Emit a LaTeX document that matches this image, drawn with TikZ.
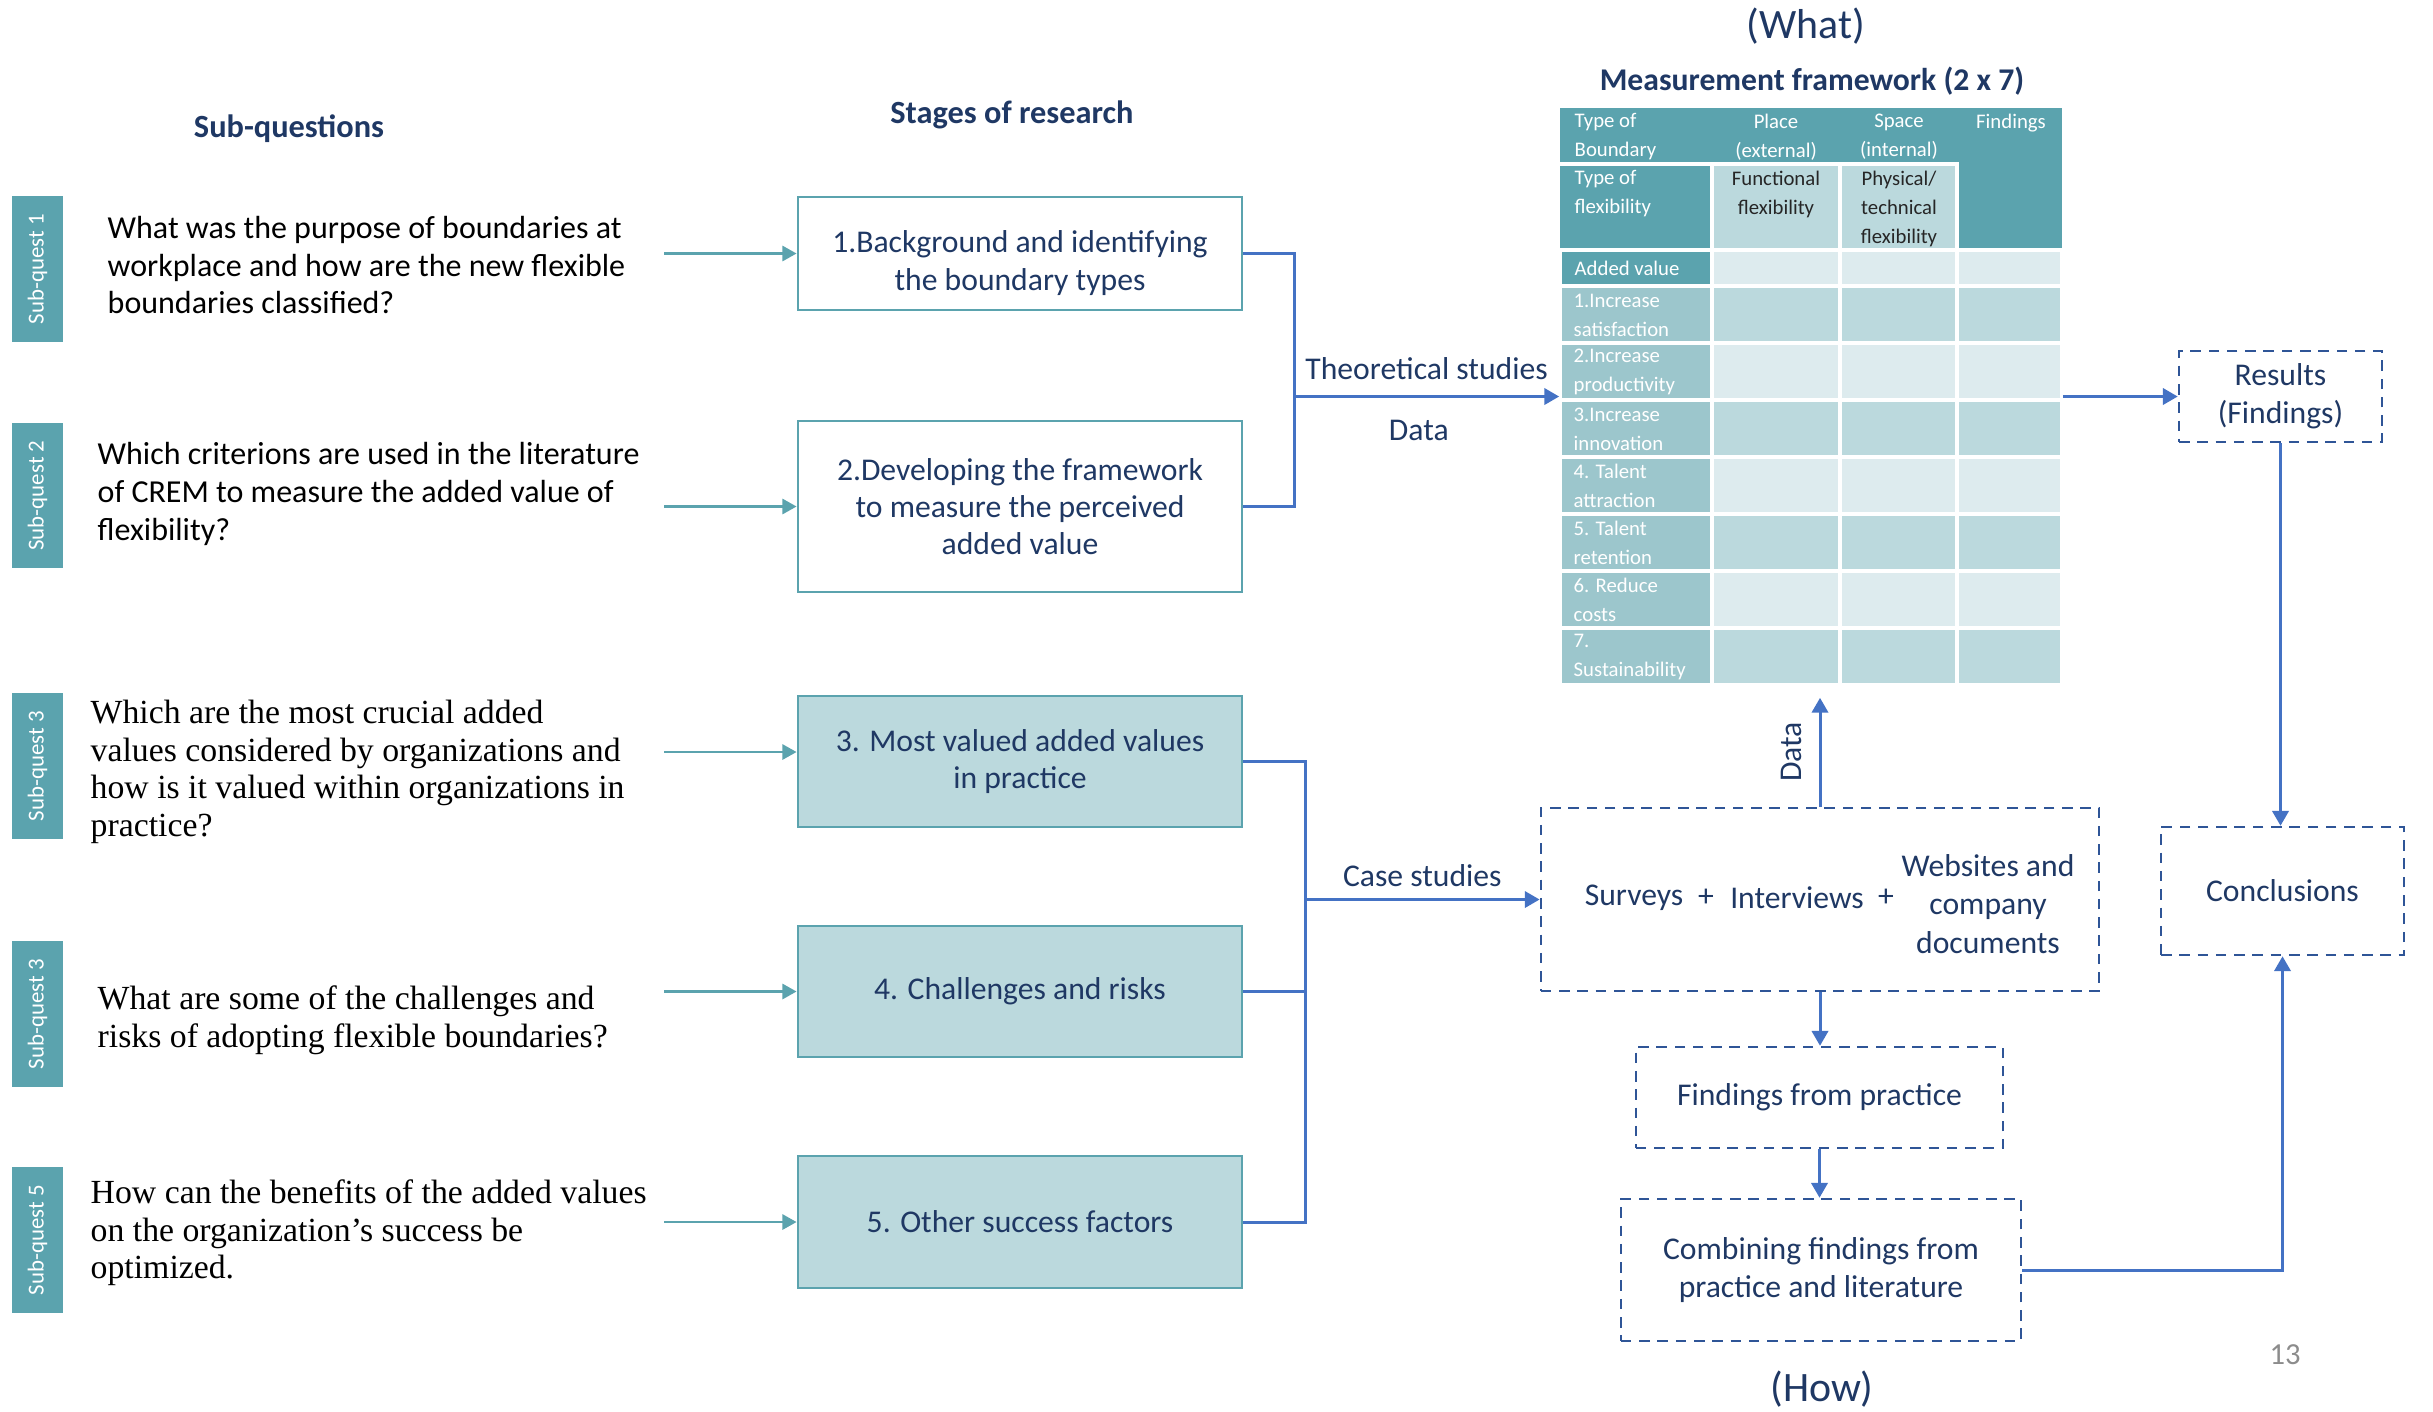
\documentclass[tikz,border=0pt]{standalone}
\usepackage{fontspec}
\setmainfont{Carlito}
\newfontfamily\cambfont{Liberation Serif}
\usetikzlibrary{arrows.meta,positioning}

\definecolor{navy}{RGB}{31,56,100}
\definecolor{tealA}{RGB}{91,163,174}
\definecolor{tealB}{RGB}{156,198,204}
\definecolor{tealC}{RGB}{187,217,221}
\definecolor{tealD}{RGB}{221,235,238}
\definecolor{lineblue}{RGB}{68,114,196}
\definecolor{dashblue}{RGB}{47,85,151}
\definecolor{pagegray}{RGB}{140,140,140}

\tikzset{
  subtab/.style={fill=tealA, text=white, rotate=90, minimum width=1.45cm, minimum height=0.51cm, inner sep=0pt, font=\fontsize{6.5}{7}\selectfont},
  qsans/.style={anchor=west, align=left, inner sep=0pt, font=\fontsize{9.1}{10.8}\selectfont},
  qserif/.style={anchor=west, align=left, inner sep=0pt, font=\cambfont\fontsize{9.6}{10.7}\selectfont},
  stagebox/.style={draw=tealA, line width=0.75pt, fill=#1, text=navy, align=center, minimum width=4.44cm, font=\fontsize{9}{10.6}\selectfont},
  stagebox/.default=white,
  head/.style={text=navy, font=\bfseries\fontsize{9.2}{11}\selectfont},
  lbl/.style={text=navy, font=\fontsize{9}{10.8}\selectfont},
  dashbox/.style={draw=dashblue, line width=0.7pt, dash pattern=on 3pt off 2.2pt, text=navy, align=center, font=\fontsize{9}{10.7}\selectfont},
  dtext/.style={text=navy, align=center, inner sep=0pt, font=\fontsize{9}{10.9}\selectfont},
  cell/.style={draw=white, line width=1pt},
  celltxt/.style={text=white, align=left, inner sep=0pt, font=\fontsize{5.9}{8.25}\selectfont},
  tealarrow/.style={draw=tealA, line width=0.65pt, -{Triangle[length=4pt,width=4.3pt]}},
  blueline/.style={draw=lineblue, line width=0.85pt},
  bluearrow/.style={blueline, -{Triangle[length=4.2pt,width=4.6pt]}},
}

\begin{document}
\begin{tikzpicture}[x=0.01cm, y=-0.01cm]
  \useasboundingbox (0,0) rectangle (2433,1411);

  % headings
  \node[head] (hsub) at (289,129) {Sub-questions};
  \node[head] (hstage) at (1012,115) {Stages of research};
  \node[text=navy, font=\fontsize{11.9}{13}\selectfont] (what) at (1806,26) {(What)};
  \node[text=navy, font=\bfseries\fontsize{9}{10.8}\selectfont] (mframe) at (1812,81) {Measurement framework (2 x 7)};
  \node[text=navy, font=\fontsize{11.9}{13}\selectfont] (how) at (1822,1389) {(How)};

  % sub-question tabs
  \foreach \n/\y/\t in {1/269/1, 2/495.5/2, 3/766/3, 4/1014/3, 5/1240/5}
    \node[subtab] (tab\n) at (37.5,\y) {Sub-quest \t};

  % questions
  \node[qsans] (q1) at (107,265) {What was the purpose of boundaries at\\workplace and how are the new flexible\\boundaries classified?};
  \node[qsans] (q2) at (97,494) {Which criterions are used in the literature\\of CREM to measure the added value of\\flexibility?};
  \node[qserif] (q3) at (90,772) {Which are the most crucial added\\values considered by organizations and\\how is it valued within organizations in\\practice?};
  \node[qserif] (q4) at (97,1020) {What are some of the challenges and\\risks of adopting flexible boundaries?};
  \node[qserif] (q5) at (90,1233) {How can the benefits of the added values\\on the organization’s success be\\optimized.};

  % stages of research
  \node[stagebox, minimum height=1.13cm] (s1) at (1020,253.5) {\raisebox{-5.25pt}[0pt][0pt]{\begin{tabular}{@{}c@{}}1.Background and identifying\\the boundary types\end{tabular}}};
  \node[stagebox, minimum height=1.71cm] (s2) at (1020,506.5) {2.Developing the framework\\to measure the perceived\\added value};
  \node[stagebox=tealC, minimum height=1.31cm] (s3) at (1020,761.5) {3. Most valued added values\\in practice};
  \node[stagebox=tealC, minimum height=1.31cm] (s4) at (1020,991.5) {4. Challenges and risks};
  \node[stagebox=tealC, minimum height=1.32cm] (s5) at (1020,1222) {5. Other success factors};

  % arrows into the stages
  \foreach \i/\y in {1/253.5, 2/506.5, 3/752, 4/991.5, 5/1222} {
    \coordinate (qa\i) at (664,\y);
    \draw[tealarrow] (qa\i) -- (qa\i -| s\i.west);
  }

  % measurement framework table
  \node[minimum width=5.02cm, minimum height=5.77cm, inner sep=0pt] (tbl) at (1811,396.5) {};
  \fill[tealA] (1560,108) rectangle (2062,250);
  \draw[white, line width=1pt] (1560,164) -- (1957,164);
  \filldraw[cell, fill=tealC] (1712,164) rectangle (1840,250);
  \filldraw[cell, fill=tealC] (1840,164) rectangle (1957,250);
  \filldraw[cell, fill=tealA] (1560,250) rectangle (1712,286);
  \foreach \xa/\xb in {1712/1840, 1840/1957, 1957/2062}
    \filldraw[cell, fill=tealD] (\xa,250) rectangle (\xb,286);
  \foreach \lab [count=\i] in {{1.Increase\\satisfaction}, {2.Increase\\productivity}, {3.Increase\\innovation}, {4. Talent\\attraction}, {5. Talent\\retention}, {6. Reduce\\costs}, {7.\\Sustainability}} {
    \pgfmathsetmacro\ytop{286+57*(\i-1)}
    \ifodd\i\def\rowcol{tealC}\else\def\rowcol{tealD}\fi
    \filldraw[cell, fill=tealB] (1560,\ytop) rectangle (1712,{\ytop+57});
    \foreach \xa/\xb in {1712/1840, 1840/1957, 1957/2062}
      \filldraw[cell, fill=\rowcol] (\xa,\ytop) rectangle (\xb,{\ytop+57});
    \node[celltxt, anchor=west] (rv\i) at (1573,{\ytop+29}) {\lab};
  }
  \node[celltxt, anchor=north west] (hbound) at (1574,113) {Type of\\Boundary};
  \node[celltxt, anchor=north, align=center] (hplace) at (1776,113) {Place\\(external)};
  \node[celltxt, anchor=north, align=center] (hspace) at (1899,113) {Space\\(internal)};
  \node[celltxt, anchor=north, align=center] (hfind) at (2011,113) {Findings};
  \node[celltxt, anchor=north west] (hflex) at (1574,170) {Type of\\flexibility};
  \node[celltxt, anchor=north, align=center, text=black!85] (hfunc) at (1776,170) {Functional\\flexibility};
  \node[celltxt, anchor=north, align=center, text=black!85] (hphys) at (1899,170) {Physical/\\technical\\flexibility};
  \node[celltxt, anchor=west] (hadded) at (1574,268) {Added value};

  % how: data collection and results
  \node[dashbox, minimum width=2.03cm, minimum height=0.91cm] (res) at (2280.5,396.5) {Results\\(Findings)};
  \node[dashbox, minimum width=2.43cm, minimum height=1.28cm] (conc) at (2282.5,891) {Conclusions};
  \node[dashbox, minimum width=5.58cm, minimum height=1.83cm] (surv) at (1820,899.5) {};
  \node[dtext] (sv) at (1634,898) {Surveys};
  \node[dtext] (pl1) at (1706,898) {+};
  \node[dtext] (iv) at (1797,898) {Interviews};
  \node[dtext] (pl2) at (1886,898) {+};
  \node[dtext] (web) at (1988,904) {Websites and\\company\\documents};
  \node[dashbox, minimum width=3.67cm, minimum height=1.01cm] (fnd) at (1819.5,1097.5) {Findings from practice};
  \node[dashbox, minimum width=4.00cm, minimum height=1.42cm] (comb) at (1821,1270) {Combining findings from\\practice and literature};

  % connectors
  \coordinate (bus1) at (1294,396.5);
  \draw[blueline] (s1.east) -| (bus1);
  \draw[blueline] (s2.east) -| (bus1);
  \draw[bluearrow] (bus1) -- node[lbl, above=1pt] (lth) {Theoretical studies} node[lbl, below=3pt, xshift=-2.2pt] (ldata) {Data} (tbl.west);
  \coordinate (bus2) at (1305,899.5);
  \foreach \i in {3,4,5}
    \draw[blueline] (s\i.east) -| (bus2);
  \draw[bluearrow] (bus2) -- node[lbl, above=0pt] (lcase) {Case studies} (surv.west);
  \draw[bluearrow] (tbl.east) -- (res.west);
  \draw[bluearrow] (res.south) -- (res.south |- conc.north);
  \draw[bluearrow, shorten >=3.4pt] (surv.north) -- (surv.north |- tbl.south);
  \node[lbl, rotate=90] (ldat2) at (1791,752) {Data};
  \draw[bluearrow] (surv.south) -- (surv.south |- fnd.north);
  \draw[bluearrow] (fnd.south) -- (fnd.south |- comb.north);
  \draw[bluearrow] (comb.east) -| (conc.south);

  % page number
  \node[text=pagegray, font=\fontsize{8.7}{10}\selectfont] (pgno) at (2285,1355) {13};
\end{tikzpicture}
\end{document}
